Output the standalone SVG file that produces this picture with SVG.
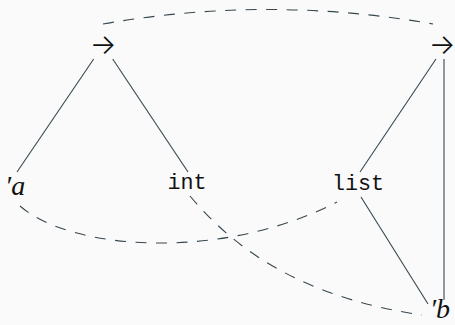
<svg xmlns="http://www.w3.org/2000/svg" width="455" height="325" viewBox="0 0 455 325">
<style>
.e{fill:none;stroke:#37474f;stroke-width:1.1}
.d{fill:none;stroke:#37474f;stroke-width:1.1;stroke-dasharray:11 9.5}
.m{font-family:Inter,"DejaVu Sans",sans-serif;font-weight:300;font-size:28px;fill:#111}
.v{font-family:"Liberation Serif",serif;font-style:italic;font-size:28px;fill:#111}
.t{font-family:"Liberation Mono","DejaVu Sans Mono",monospace;font-size:21.7px;fill:#111}
</style>
<rect width="455" height="325" fill="#fafafa"/>
<g id="connectors">
<line class="e" x1="93.7" y1="59" x2="17" y2="172"/>
<line class="e" x1="112.7" y1="59" x2="188" y2="172"/>
<line class="e" x1="436" y1="59" x2="360" y2="172"/>
<line class="e" x1="444" y1="59" x2="444" y2="300"/>
<line class="e" x1="361" y1="197" x2="428" y2="304"/>
<path class="d" d="M103,24 Q268,-5 433,24"/>
<path class="d" d="M20,206 C70,250 220,262 337,202"/>
<path class="d" d="M190,196 C245,262 320,300 422,315"/>
</g>
<g id="arrowL"><text class="m" x="103" y="54" text-anchor="middle">→</text></g>
<g id="arrowR"><text class="m" x="442" y="54" text-anchor="middle">→</text></g>
<g id="a"><text class="v" x="5" y="195">′a</text></g>
<g id="int"><text class="t" x="187" y="189" text-anchor="middle">int</text></g>
<g id="list"><text class="t" x="358" y="190" text-anchor="middle">list</text></g>
<g id="b"><text class="v" x="450" y="318" text-anchor="end">′b</text></g>
</svg>
